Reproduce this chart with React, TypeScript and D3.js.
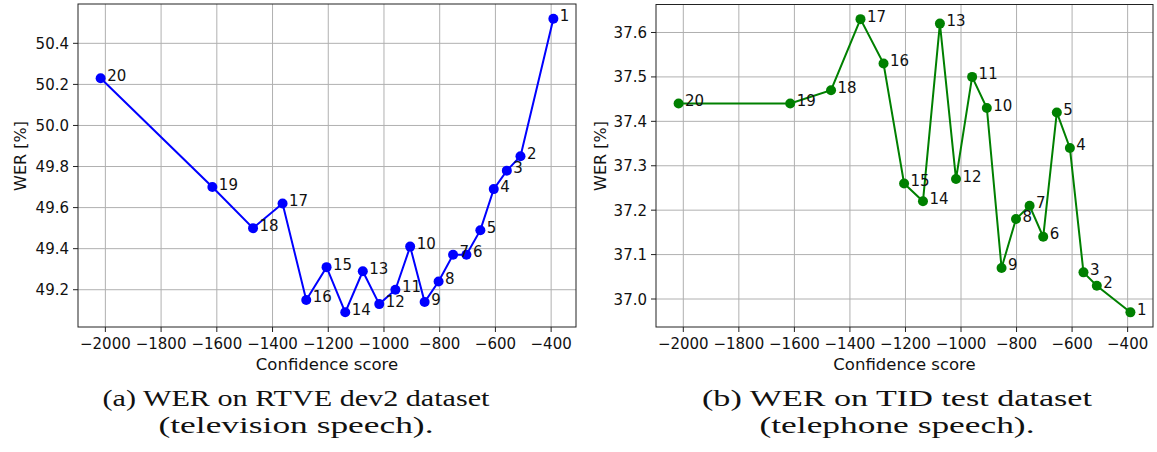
import React from 'react';
import * as d3 from 'd3';

// point ids 1..20, same order in every array below
const pointIds = d3.range(1, 21);

const tvScores = [-392, -510, -559, -606, -654, -704, -752, -804, -854, -906, -959, -1017, -1076, -1139, -1206, -1279, -1364, -1470, -1616, -2017];
const tvWer = [50.52, 49.85, 49.78, 49.69, 49.49, 49.37, 49.37, 49.24, 49.14, 49.41, 49.2, 49.13, 49.29, 49.09, 49.31, 49.15, 49.62, 49.5, 49.7, 50.23];

const telScores = [-390, -511, -559, -608, -655, -704, -753, -802, -854, -907, -960, -1018, -1076, -1137, -1205, -1279, -1362, -1468, -1615, -2017];
const telWer = [36.97, 37.03, 37.06, 37.34, 37.42, 37.14, 37.21, 37.18, 37.07, 37.43, 37.5, 37.27, 37.62, 37.22, 37.26, 37.53, 37.63, 37.47, 37.44, 37.44];

const xTicks = [-2000, -1800, -1600, -1400, -1200, -1000, -800, -600, -400];
const tvYTicks = [49.2, 49.4, 49.6, 49.8, 50.0, 50.2, 50.4];
const telYTicks = [37.0, 37.1, 37.2, 37.3, 37.4, 37.5, 37.6];

const captions = [
  ['(a) WER on RTVE dev2 dataset', '(television speech).'],
  ['(b) WER on TID test dataset', '(telephone speech).'],
];

const W = 1157;
const H = 452;
const sans = '"DejaVu Sans", sans-serif';

const padded = (vals: number[]) => {
  const [lo, hi] = d3.extent(vals) as [number, number];
  const m = (hi - lo) * 0.05;
  return [lo - m, hi + m];
};

const fmt = (v: number) => d3.format('.1f')(v).replace('-', '\u2212');

type PanelProps = {
  left: number; right: number; top: number; bottom: number;
  scores: number[]; wer: number[]; yTicks: number[]; color: string;
  caption: string[]; captionX: number; labelX: number; line1Len: number;
};

const Panel = ({ left, right, top, bottom, scores, wer, yTicks, color, caption, captionX, labelX, line1Len }: PanelProps) => {
  const x = d3.scaleLinear().domain(padded(scores)).range([left, right]);
  const y = d3.scaleLinear().domain(padded(wer)).range([bottom, top]);
  const pts = pointIds.map((id, i) => ({ id, s: scores[i], w: wer[i] }));
  const line = d3.line<{ s: number; w: number }>().x(d => x(d.s)).y(d => y(d.w));

  return (
    <g>
      {/* grid */}
      <g stroke="#b0b0b0" strokeWidth={1}>
        {xTicks.map(t => <line key={'gx' + t} x1={x(t)} x2={x(t)} y1={top} y2={bottom} />)}
        {yTicks.map(t => <line key={'gy' + t} x1={left} x2={right} y1={y(t)} y2={y(t)} />)}
      </g>
      {/* ticks */}
      <g stroke="#222" strokeWidth={1}>
        {xTicks.map(t => <line key={'tx' + t} x1={x(t)} x2={x(t)} y1={bottom} y2={bottom + 5} />)}
        {yTicks.map(t => <line key={'ty' + t} x1={left - 5} x2={left} y1={y(t)} y2={y(t)} />)}
      </g>
      <g fontFamily={sans} fontSize={15} fill="#111">
        {xTicks.map(t => (
          <text key={'lx' + t} x={x(t)} y={bottom + 21.5} textAnchor="middle">{fmt(t).replace('.0', '')}</text>
        ))}
        {yTicks.map(t => (
          <text key={'ly' + t} x={left - 9} y={y(t) + 5.5} textAnchor="end">{fmt(t)}</text>
        ))}
      </g>
      {/* series */}
      <path d={line(pts) || ''} fill="none" stroke={color} strokeWidth={2} />
      {pts.map(p => <circle key={'c' + p.id} cx={x(p.s)} cy={y(p.w)} r={5} fill={color} />)}
      <g fontFamily={sans} fontSize={15} fill="#111">
        {pts.map(p => (
          <text key={'a' + p.id} x={x(p.s) + 6.5} y={y(p.w) + 2.5}>{p.id}</text>
        ))}
      </g>
      <rect x={left} y={top} width={right - left} height={bottom - top} fill="none" stroke="#222" strokeWidth={1} />
      {/* axis labels */}
      <text x={(left + right) / 2} y={bottom + 43} textAnchor="middle" fontFamily={sans} fontSize={16.5} fill="#111">Confidence score</text>
      <text transform={`translate(${labelX},156) rotate(-90)`} textAnchor="middle" fontFamily={sans} fontSize={16} fill="#111">WER [%]</text>
      {/* caption */}
      <g fontFamily='"Liberation Serif", serif' fontSize={24} fill="#111" textAnchor="middle">
        <text x={captionX} y={406} textLength={line1Len} lengthAdjust="spacingAndGlyphs">{caption[0]}</text>
        <text x={captionX} y={433} textLength={275} lengthAdjust="spacingAndGlyphs">{caption[1]}</text>
      </g>
    </g>
  );
};

export default function App() {
  return (
    <svg width={W} height={H} style={{ position: 'absolute', left: 0, top: 0, background: '#fff' }}>
      <rect width={W} height={H} fill="#fff" />
      <Panel left={78} right={576} top={4} bottom={327} scores={tvScores} wer={tvWer} yTicks={tvYTicks}
        color="#0000ff" caption={captions[0]} captionX={296} labelX={26} line1Len={387} />
      <Panel left={656} right={1153} top={4.5} bottom={327} scores={telScores} wer={telWer} yTicks={telYTicks}
        color="#008000" caption={captions[1]} captionX={897} labelX={606} line1Len={390} />
    </svg>
  );
}
